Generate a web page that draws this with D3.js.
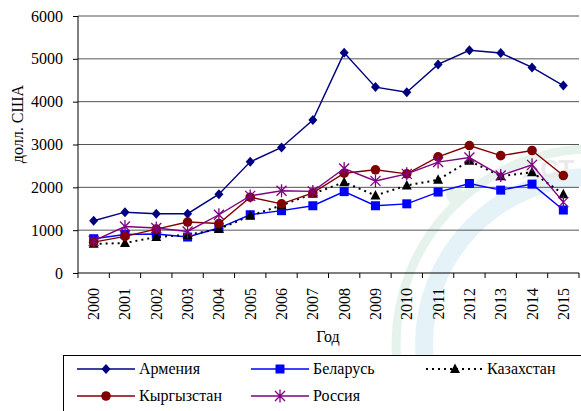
<!DOCTYPE html>
<html>
<head>
<meta charset="utf-8">
<script src="https://cdn.jsdelivr.net/npm/d3@7"></script>
<style>
  body { margin: 0; background: #fff; }
</style>
</head>
<body>
<div id="chart"></div>
<script>
// years on the x axis
const years = ["2000","2001","2002","2003","2004","2005","2006","2007","2008","2009","2010","2011","2012","2013","2014","2015"];
const yTicks = [0, 1000, 2000, 3000, 4000, 5000, 6000];

// series values
const armenia    = [1220, 1420, 1385, 1385, 1840, 2595, 2930, 3570, 5140, 4340, 4220, 4870, 5200, 5135, 4800, 4375];
const belarus    = [800, 900, 910, 840, 1050, 1360, 1455, 1570, 1900, 1570, 1615, 1890, 2090, 1935, 2075, 1470];
const kazakhstan = [680, 700, 840, 890, 1025, 1335, 1580, 1850, 2120, 1810, 2045, 2175, 2620, 2260, 2355, 1840];
const kyrgyzstan = [720, 855, 1025, 1190, 1155, 1770, 1615, 1870, 2330, 2410, 2315, 2710, 2975, 2740, 2860, 2275];
const russia     = [750, 1085, 1050, 970, 1360, 1800, 1920, 1905, 2440, 2150, 2315, 2590, 2695, 2275, 2525, 1655];

const series = [
  { name: "Армения",    values: armenia,    color: "#000080", marker: "diamond",  dash: null },
  { name: "Беларусь",   values: belarus,    color: "#0000ff", marker: "square",   dash: null },
  { name: "Казахстан",  values: kazakhstan, color: "#000000", marker: "triangle", dash: "2,4" },
  { name: "Кыргызстан", values: kyrgyzstan, color: "#800000", marker: "circle",   dash: null },
  { name: "Россия",     values: russia,     color: "#800080", marker: "star",     dash: null }
];

const W = 581, H = 411;
const margin = { top: 16, right: 2, bottom: 138, left: 78 };
const width = W - margin.left - margin.right;
const height = H - margin.top - margin.bottom;
const serif = '"Liberation Serif", "Times New Roman", serif';

const svg = d3.select("#chart").append("svg")
  .attr("width", W).attr("height", H);

// faint watermark behind the chart
const wm = svg.append("g").attr("opacity", 0.5);
wm.append("circle").attr("cx", 592).attr("cy", 345).attr("r", 196)
  .attr("fill", "none").attr("stroke", "#cfe9da").attr("stroke-width", 9);
wm.append("circle").attr("cx", 592).attr("cy", 345).attr("r", 168)
  .attr("fill", "none").attr("stroke", "#cde8f3").attr("stroke-width", 18);
wm.append("circle").attr("cx", 455).attr("cy", 195).attr("r", 9).attr("fill", "#cfe9da");
wm.append("text").attr("x", 522).attr("y", 178).style("font-family", '"Liberation Sans"')
  .attr("font-size", 26).attr("font-weight", "bold").attr("fill", "#d6d6d6").text("АСТ");
wm.append("text").attr("transform", "translate(392,362) rotate(90)").style("font-family", '"Liberation Sans"')
  .attr("font-size", 20).attr("fill", "#d0d0d0").text("Наци");

const g = svg.append("g").attr("transform", `translate(${margin.left},${margin.top})`);

const x = d3.scaleBand().domain(years).range([0, width]);
const y = d3.scaleLinear().domain([0, 6000]).range([height, 0]);

// horizontal grid
g.append("g").selectAll("line").data(yTicks.filter(d => d > 0)).join("line")
  .attr("x1", 0).attr("x2", width)
  .attr("y1", d => y(d)).attr("y2", d => y(d))
  .attr("stroke", "#555").attr("stroke-width", 1);

// y axis
const yAxis = g.append("g")
  .call(d3.axisLeft(y).tickValues(yTicks).tickSize(5).tickPadding(10).tickFormat(d3.format("d")));
yAxis.selectAll("text").attr("font-size", 16).attr("fill", "#000").style("font-family", serif);
yAxis.selectAll("line, path").attr("stroke", "#000");
yAxis.select("path").attr("d", `M0,${height}V0`);

// x axis with ticks on category boundaries
const xAxisG = g.append("g").attr("transform", `translate(0,${height})`);
xAxisG.append("line").attr("x1", 0).attr("x2", width).attr("stroke", "#000");
xAxisG.selectAll("line.tk").data(d3.range(years.length + 1)).join("line")
  .attr("class", "tk")
  .attr("x1", i => i * x.bandwidth()).attr("x2", i => i * x.bandwidth())
  .attr("y1", 0).attr("y2", 5).attr("stroke", "#000");
xAxisG.selectAll("text").data(years).join("text")
  .attr("transform", d => `translate(${x(d) + x.bandwidth() / 2 + 5.5},15) rotate(-90)`)
  .attr("text-anchor", "end")
  .attr("font-size", 16)
  .style("font-family", serif)
  .text(d => d);

// axis titles
svg.append("text").attr("x", 328).attr("y", 342)
  .attr("text-anchor", "middle").attr("font-size", 16).style("font-family", serif).text("Год");
svg.append("text").attr("transform", "translate(23,124) rotate(-90)")
  .attr("text-anchor", "middle").attr("font-size", 16).style("font-family", serif).text("долл. США");

// marker drawing helper
function drawMarker(sel, type, color) {
  if (type === "diamond") {
    sel.append("path").attr("d", "M0,-5L4.5,0L0,5L-4.5,0Z").attr("fill", color);
  } else if (type === "square") {
    sel.append("rect").attr("x", -4.5).attr("y", -4.5).attr("width", 9).attr("height", 9).attr("fill", color);
  } else if (type === "triangle") {
    sel.append("path").attr("d", "M0,-5.5L5,4L-5,4Z").attr("fill", color);
  } else if (type === "circle") {
    sel.append("circle").attr("r", 4.8).attr("fill", color);
  } else if (type === "star") {
    sel.append("path").attr("d", "M-5,-5L5,5M-5,5L5,-5M0,-6.5V6.5")
      .attr("stroke", color).attr("stroke-width", 1.3).attr("fill", "none");
  }
}

const line = d3.line().x((d, i) => x(years[i]) + x.bandwidth() / 2).y(d => y(d));

series.forEach(s => {
  g.append("path").datum(s.values)
    .attr("d", line)
    .attr("fill", "none")
    .attr("stroke", s.color)
    .attr("stroke-width", s.dash ? 2 : 1.4)
    .attr("stroke-dasharray", s.dash);
  g.append("g").selectAll("g").data(s.values).join("g")
    .attr("transform", (d, i) => `translate(${x(years[i]) + x.bandwidth() / 2},${y(d)})`)
    .each(function () { drawMarker(d3.select(this), s.marker, s.color); });
});

// legend
const lg = svg.append("g");
lg.append("rect").attr("x", 63.5).attr("y", 355.5).attr("width", 540).attr("height", 70)
  .attr("fill", "#fff").attr("stroke", "#000");
const legendPos = [[77, 369], [251, 369], [426, 369], [77, 396], [251, 396]];
series.forEach((s, i) => {
  const [lx, ly] = legendPos[i];
  const item = lg.append("g").attr("transform", `translate(${lx},${ly})`);
  item.append("line").attr("x1", 0).attr("x2", 58).attr("stroke", s.color)
    .attr("stroke-width", s.dash ? 2 : 1.4).attr("stroke-dasharray", s.dash);
  drawMarker(item.append("g").attr("transform", "translate(29,0)"), s.marker, s.color);
  item.append("text").attr("x", s.dash ? 61 : 62).attr("y", 5).attr("font-size", 16)
    .style("font-family", serif).text(s.name);
});
</script>
</body>
</html>
